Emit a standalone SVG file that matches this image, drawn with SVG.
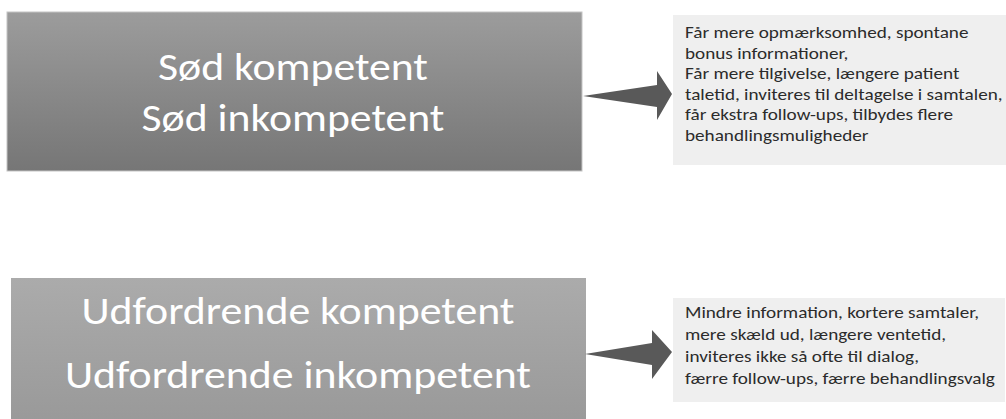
<svg xmlns="http://www.w3.org/2000/svg" width="1006" height="419" viewBox="0 0 1006 419">
  <defs>
    <linearGradient id="g1" x1="0" y1="0" x2="0" y2="1">
      <stop offset="0" stop-color="#9c9c9c"/>
      <stop offset="1" stop-color="#767676"/>
    </linearGradient>
    <linearGradient id="g2" x1="0" y1="0" x2="0" y2="1">
      <stop offset="0" stop-color="#ababab"/>
      <stop offset="1" stop-color="#999999"/>
    </linearGradient>
    <style>
      .big { font-family: Carlito, Calibri, Lato, "Open Sans", sans-serif; font-size: 38.5px; fill: #ffffff; text-anchor: middle; }
      .small { font-family: Carlito, Calibri, Lato, "Open Sans", sans-serif; font-size: 17px; fill: #2b2b2b; }
      .tbox { fill: #efefef; }
      .arrow { fill: #595959; }
    </style>
  </defs>
  <rect width="1006" height="419" fill="#ffffff"/>

  <g id="node-sod">
    <rect x="7" y="12" width="575" height="159" fill="url(#g1)" stroke="#c4c4c4" stroke-width="1"/>
    <text class="big" x="293" y="80" textLength="270" lengthAdjust="spacingAndGlyphs">Sød kompetent</text>
    <text class="big" x="293" y="131" textLength="303" lengthAdjust="spacingAndGlyphs">Sød inkompetent</text>
  </g>

  <g id="node-udfordrende">
    <rect x="11" y="278" width="575" height="146" fill="url(#g2)"/>
    <text class="big" x="298" y="324" textLength="433" lengthAdjust="spacingAndGlyphs">Udfordrende kompetent</text>
    <text class="big" x="298" y="388" textLength="466" lengthAdjust="spacingAndGlyphs">Udfordrende inkompetent</text>
  </g>

  <g id="node-effekt-sod">
    <rect class="tbox" x="673" y="15" width="333" height="150"/>
    <g transform="translate(685 0) scale(1.129 1)">
      <text class="small" x="0" y="38.5">Får mere opmærksomhed, spontane</text>
      <text class="small" x="0" y="59">bonus informationer,</text>
      <text class="small" x="0" y="79.5">Får mere tilgivelse, længere patient</text>
      <text class="small" x="0" y="100">taletid, inviteres til deltagelse i samtalen,</text>
      <text class="small" x="0" y="120.5">får ekstra follow-ups, tilbydes flere</text>
      <text class="small" x="0" y="141">behandlingsmuligheder</text>
    </g>
  </g>

  <g id="node-effekt-udfordrende">
    <rect class="tbox" x="673" y="298" width="332" height="104"/>
    <g transform="translate(685 0) scale(1.129 1)">
      <text class="small" x="0" y="318">Mindre information, kortere samtaler,</text>
      <text class="small" x="0" y="340">mere skæld ud, længere ventetid,</text>
      <text class="small" x="0" y="362">inviteres ikke så ofte til dialog,</text>
      <text class="small" x="0" y="384">færre follow-ups, færre behandlingsvalg</text>
    </g>
  </g>

  <g id="connectors">
    <polygon class="arrow" points="583,96 657,85 657,71 672,94 657,120 657,107"/>
    <polygon class="arrow" points="585,354 652,343 652,330 672,352 652,379 652,365"/>
  </g>
</svg>
